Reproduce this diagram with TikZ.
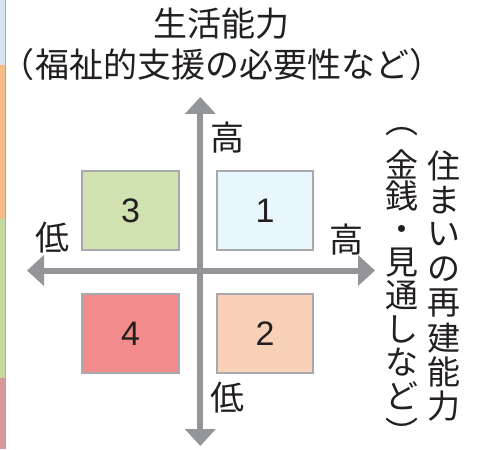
\documentclass[tikz,border=0pt]{standalone}
\usepackage{fontspec}
\setmainfont{Noto Sans CJK JP}
\newfontfamily\digitfont{Liberation Sans}
\usetikzlibrary{arrows.meta}
\definecolor{axisgray}{HTML}{939598}
\definecolor{textdark}{HTML}{231F20}
\definecolor{boxgray}{HTML}{A7A9AC}
\definecolor{qone}{HTML}{E8F6FD}
\definecolor{qtwo}{HTML}{F9D0B8}
\definecolor{qthree}{HTML}{CFE2B0}
\definecolor{qfour}{HTML}{F28B8B}
\definecolor{sblue}{HTML}{D6E2F0}
\definecolor{sorange}{HTML}{F7BB85}
\definecolor{sgreen}{HTML}{C4D99E}
\definecolor{sred}{HTML}{D8979C}
\tikzset{
  lbl/.style={font=\fontsize{34}{36}\selectfont, text=textdark, inner sep=0pt},
  vch/.style={font=\fontsize{33}{34}\selectfont, text=textdark, inner sep=0pt},
  quad/.style={draw=boxgray, line width=1.2pt, minimum width=97pt, minimum height=79pt,
    inner sep=0pt, text=textdark, font=\digitfont\fontsize{34}{36}\selectfont},
  axis/.style={draw=axisgray, line width=6pt,
    {Triangle[length=17pt,width=30pt]}-{Triangle[length=17pt,width=30pt]}},
}
\begin{document}
\begin{tikzpicture}[x=1pt,y=-1pt]
\useasboundingbox[fill=white] (0,0) rectangle (478,449);
% left edge strips
\fill[sblue] (0,0) rectangle (5,65);
\fill[sorange] (0,65) rectangle (5,218);
\fill[sgreen] (0,218) rectangle (5,378);
\fill[sred] (0,378) rectangle (5,449);
\draw[boxgray, line width=1.2pt] (5.5,0) -- (5.5,449);
% quadrant boxes
\node[quad, fill=qthree] (q3) at (130.5,210.5) {3};
\node[quad, fill=qone, minimum width=96pt] (q1) at (265,210.5) {1};
\node[quad, fill=qfour] (q4) at (130.5,333.5) {4};
\node[quad, fill=qtwo, minimum width=96pt] (q2) at (265,333.5) {2};
% axes
\coordinate (L) at (27,270.5);
\coordinate (R) at (375,270.5);
\coordinate (T) at (200.3,97);
\coordinate (B) at (200.3,446);
\draw[axis] (L) -- (R);
\draw[axis] (T) -- (B);
% labels
\node[lbl] (title) at (221,24) {生活能力};
\node[lbl] (sub) at (222,65) {（福祉的支援の必要性など）};
\node[lbl] (thigh) at (227,138) {高};
\node[lbl] (tlow) at (227,398) {低};
\node[lbl] (llow) at (52,238) {低};
\node[lbl] (rhigh) at (346,240) {高};
% vertical text, first column
\foreach \ch [count=\i from 0] in {住,ま,い,の,再,建,能,力}
  \node[vch] (ca\i) at (444,165.7+34.4*\i) {\ch};
% vertical text, second column
\node[vch] (cbopen) at (402,131.5) {︵};
\node[vch] (cb1) at (402,164.5) {金};
\node[vch] (cb2) at (402,195.5) {銭};
\node[vch] (cb3) at (402,233) {・};
\node[vch] (cb4) at (402,262.5) {見};
\node[vch] (cb5) at (402,295.5) {通};
\node[vch] (cb6) at (402,329) {し};
\node[vch] (cb7) at (402,362.5) {な};
\node[vch] (cb8) at (402,395.5) {ど};
\node[vch] (cbclose) at (402,432) {\raisebox{0pt}[\height][0pt]{︶}};
\end{tikzpicture}
\end{document}
